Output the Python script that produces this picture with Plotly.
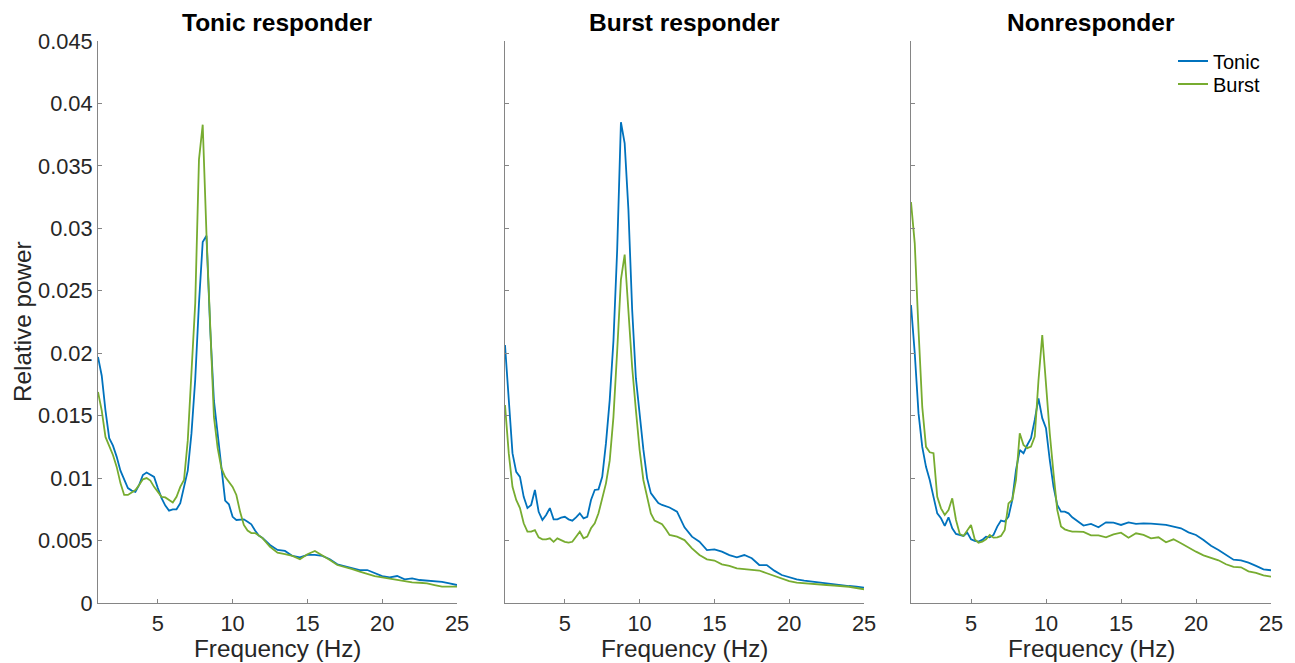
import plotly.graph_objects as go

# ---------------- data ----------------
FREQ = [1.0, 1.25, 1.5, 1.75, 2.0, 2.25, 2.5, 2.75, 3.0, 3.25, 3.5, 3.75,
        4.0, 4.25, 4.5, 4.75, 5.0, 5.25, 5.5, 5.75, 6.0, 6.25, 6.5, 6.75,
        7.0, 7.25, 7.5, 7.75, 8.0, 8.25, 8.5, 8.75, 9.0, 9.25, 9.5, 9.75,
        10.0, 10.25, 10.5, 10.75, 11.0, 11.25, 11.5, 11.75, 12.0,
        12.5, 13.0, 13.5, 14.0, 14.5, 15.0, 15.5, 16.0, 16.5, 17.0, 17.5,
        18.0, 18.5, 19.0, 19.5, 20.0, 20.5, 21.0, 21.5, 22.0, 22.5, 23.0,
        23.5, 24.0, 24.5, 25.0]

PANELS = ["Tonic responder", "Burst responder", "Nonresponder"]
SERIES = ["Tonic", "Burst"]

tonic_resp_tonic = [
    0.0197, 0.0182, 0.0154, 0.0132, 0.0126, 0.0117, 0.0106, 0.00985, 0.0092, 0.0090, 0.0089, 0.00945,
    0.01025, 0.01045, 0.0103, 0.0101, 0.0092, 0.0084, 0.0078, 0.0074, 0.0075, 0.0075, 0.0080, 0.0092,
    0.0106, 0.0136, 0.0179, 0.0240, 0.0289, 0.0294, 0.0220, 0.0162, 0.0136, 0.0109, 0.0082, 0.0079,
    0.0069, 0.00665, 0.0067, 0.0067, 0.0065, 0.0063, 0.0058, 0.0054, 0.0052,
    0.00465, 0.00425, 0.00417, 0.00377, 0.00366, 0.00385, 0.00385, 0.00377, 0.0035, 0.0031, 0.00295,
    0.00275, 0.00264, 0.00264, 0.00243, 0.00216, 0.00205, 0.00216, 0.0019, 0.00197, 0.00184, 0.00178,
    0.00178, 0.0017, 0.00157, 0.00144]
tonic_resp_burst = [
    0.0169, 0.0154, 0.0133, 0.0126, 0.01185, 0.0109, 0.0096, 0.00865, 0.00865, 0.00885, 0.00905, 0.00945,
    0.0099, 0.0100, 0.0098, 0.0093, 0.00885, 0.0085, 0.00845, 0.00825, 0.00805, 0.0085, 0.0093, 0.00985,
    0.0130, 0.0185, 0.0240, 0.0355, 0.0383, 0.0296, 0.0215, 0.0149, 0.0124, 0.0108, 0.0101, 0.0097,
    0.0093, 0.00865, 0.0073, 0.00625, 0.0058, 0.0056, 0.0056, 0.0054, 0.0052,
    0.0045, 0.00403, 0.00392, 0.00377, 0.0035, 0.0039, 0.00417, 0.00377, 0.00344, 0.00304, 0.0029,
    0.00272, 0.00251, 0.00232, 0.00216, 0.00205, 0.00195, 0.00184, 0.0017, 0.00165, 0.00162, 0.00157,
    0.00144, 0.00131, 0.00131, 0.00131]

burst_resp_tonic = [
    0.02065, 0.01625, 0.0120, 0.0105, 0.0101, 0.0085, 0.0076, 0.00785, 0.00905, 0.0073, 0.00665, 0.00705,
    0.0076, 0.0067, 0.0067, 0.00683, 0.0069, 0.0067, 0.00659, 0.00686, 0.00718, 0.00678, 0.0069, 0.00825,
    0.00905, 0.0091, 0.0101, 0.0128, 0.01625, 0.0210, 0.0283, 0.0385, 0.0368, 0.0315, 0.0235, 0.0180,
    0.0150, 0.0123, 0.0100, 0.0088, 0.0084, 0.0080, 0.00785, 0.00775, 0.00765,
    0.00731, 0.00606, 0.00531, 0.00491, 0.00424, 0.0043, 0.00411, 0.00384, 0.00366, 0.00384, 0.00358,
    0.00304, 0.00304, 0.00259, 0.00224, 0.00206, 0.0019, 0.00179, 0.00171, 0.00163, 0.00157, 0.00152,
    0.00144, 0.00136, 0.00131, 0.00123]
burst_resp_burst = [
    0.01585, 0.0120, 0.0093, 0.00825, 0.0076, 0.00638, 0.00571, 0.00571, 0.00584, 0.00526, 0.0051, 0.0051,
    0.00518, 0.0049, 0.00518, 0.00504, 0.0049, 0.00483, 0.0049, 0.00531, 0.00571, 0.00518, 0.00531, 0.00598,
    0.00638, 0.00718, 0.00838, 0.00958, 0.0114, 0.0149, 0.0202, 0.0259, 0.0279, 0.0232, 0.0189, 0.01545,
    0.01225, 0.00985, 0.00838, 0.00718, 0.0066, 0.00645, 0.0063, 0.0059, 0.00545,
    0.00531, 0.00504, 0.00438, 0.00384, 0.0035, 0.0034, 0.0031, 0.00298, 0.00278, 0.0027, 0.00265,
    0.0026, 0.00238, 0.00215, 0.00195, 0.00175, 0.00163, 0.00157, 0.00152, 0.00147, 0.00144, 0.0014,
    0.00136, 0.0013, 0.0012, 0.0011]

non_resp_tonic = [
    0.02386, 0.0200, 0.0152, 0.0125, 0.0109, 0.00985, 0.0085, 0.00718, 0.00678, 0.00617, 0.00686, 0.00598,
    0.00553, 0.00545, 0.00537, 0.00564, 0.0051, 0.00497, 0.00491, 0.00505, 0.00531, 0.00526, 0.00545, 0.00612,
    0.0066, 0.00652, 0.00692, 0.00825, 0.01065, 0.01225, 0.01199, 0.01265, 0.0132, 0.01466, 0.01639, 0.0148,
    0.01399, 0.01145, 0.00932, 0.00785, 0.00732, 0.00732, 0.00718, 0.00686, 0.00665,
    0.0062, 0.00633, 0.00606, 0.00646, 0.00643, 0.00625, 0.00646, 0.00633, 0.00638, 0.00635, 0.0063,
    0.00625, 0.00611, 0.00598, 0.00566, 0.00545, 0.00505, 0.00459, 0.00425, 0.00385, 0.00347, 0.00342,
    0.00323, 0.00297, 0.0027, 0.00262]
non_resp_burst = [
    0.0321, 0.0288, 0.0219, 0.0157, 0.0125, 0.01207, 0.0120, 0.0085, 0.00758, 0.00705, 0.00745, 0.00838,
    0.00665, 0.00553, 0.00537, 0.00585, 0.00625, 0.0051, 0.00483, 0.00491, 0.0051, 0.00545, 0.00523, 0.00526,
    0.00537, 0.00585, 0.00798, 0.00825, 0.00985, 0.01359, 0.01265, 0.0124, 0.01252, 0.01332, 0.01786, 0.02146,
    0.0173, 0.01359, 0.0104, 0.00745, 0.00612, 0.0059, 0.0058, 0.00572, 0.00572,
    0.00569, 0.00542, 0.00542, 0.00526, 0.0055, 0.00563, 0.00523, 0.00558, 0.00545, 0.00518, 0.00526,
    0.00486, 0.0051, 0.00478, 0.00441, 0.00411, 0.00382, 0.00361, 0.00342, 0.0031, 0.00289, 0.00286,
    0.00254, 0.00241, 0.00222, 0.00211]

DATA = [
    (tonic_resp_tonic, tonic_resp_burst),
    (burst_resp_tonic, burst_resp_burst),
    (non_resp_tonic, non_resp_burst),
]

Y_TICKS = [0, 0.005, 0.01, 0.015, 0.02, 0.025, 0.03, 0.035, 0.04, 0.045]
Y_TICKTEXT = ["0", "0.005", "0.01", "0.015", "0.02", "0.025", "0.03", "0.035", "0.04", "0.045"]
X_TICKS = [5, 10, 15, 20, 25]

# ---------------- style ----------------
COLORS = {"Tonic": "#0072BD", "Burst": "#77AC30"}
FONT = "Liberation Sans, Arial, Helvetica, sans-serif"
TXT = "#262626"
AXC = "#858585"

W, H = 1295, 663
ML, MR, MT, MB = 98, 24, 41, 60
PW = W - ML - MR
PH = H - MT - MB

px_domains = [(98, 457), (505, 864), (911, 1271)]
domains = [((a - ML) / PW, (b - ML) / PW) for a, b in px_domains]

fig = go.Figure()

for i, (tonic, burst) in enumerate(DATA):
    xa = "x" if i == 0 else f"x{i+1}"
    ya = "y" if i == 0 else f"y{i+1}"
    for name, vals in zip(SERIES, (tonic, burst)):
        fig.add_trace(go.Scatter(
            x=FREQ, y=vals, mode="lines", name=name,
            line=dict(color=COLORS[name], width=1.8),
            xaxis=xa, yaxis=ya, showlegend=(i == 2),
            legend="legend" if name == "Tonic" else "legend2",
        ))

LEG_X = (1173 - ML) / PW
legend_common = dict(
    xanchor="left", yanchor="middle", bgcolor="rgba(0,0,0,0)", borderwidth=0,
    font=dict(family=FONT, size=20, color="#000000"), itemwidth=30,
)

layout = dict(
    width=W, height=H,
    margin=dict(l=ML, r=MR, t=MT, b=MB, autoexpand=False),
    paper_bgcolor="white", plot_bgcolor="white",
    font=dict(family=FONT, color=TXT),
    legend=dict(x=LEG_X, y=(603 - 61) / PH, **legend_common),
    legend2=dict(x=LEG_X, y=(603 - 84) / PH, **legend_common),
    annotations=[],
)

for i in range(3):
    xk = "xaxis" if i == 0 else f"xaxis{i+1}"
    yk = "yaxis" if i == 0 else f"yaxis{i+1}"
    xa = "x" if i == 0 else f"x{i+1}"
    ya = "y" if i == 0 else f"y{i+1}"
    layout[xk] = dict(
        domain=list(domains[i]), anchor=ya, range=[1, 25],
        tickvals=X_TICKS, ticks="inside", ticklen=4, tickcolor=AXC, tickwidth=1,
        showline=True, linecolor=AXC, linewidth=1, mirror=False,
        showgrid=False, zeroline=False,
        tickfont=dict(family=FONT, size=21.8, color=TXT),
        automargin=False, ticklabelstandoff=1,
    )
    layout[yk] = dict(
        domain=[0, 1], anchor=xa, range=[0, 0.045],
        tickvals=Y_TICKS, ticktext=Y_TICKTEXT,
        ticks="inside", ticklen=4, tickcolor=AXC, tickwidth=1,
        showline=True, linecolor=AXC, linewidth=1, mirror=False,
        showgrid=False, zeroline=False,
        showticklabels=(i == 0),
        tickfont=dict(family=FONT, size=21.8, color=TXT),
        automargin=False,
    )
    cx = (domains[i][0] + domains[i][1]) / 2
    layout["annotations"].append(dict(
        text=f"<b>{PANELS[i]}</b>", x=cx, y=(603 - 23) / PH,
        xref="paper", yref="paper", xanchor="center", yanchor="middle",
        showarrow=False, font=dict(family=FONT, size=24.5, color="#000000"),
    ))
    layout["annotations"].append(dict(
        text="Frequency (Hz)", x=cx, y=(603 - 648) / PH,
        xref="paper", yref="paper", xanchor="center", yanchor="middle",
        showarrow=False, font=dict(family=FONT, size=24.3, color=TXT),
    ))

layout["annotations"].append(dict(
    text="Relative power", x=(22 - ML) / PW, y=0.5,
    xref="paper", yref="paper", xanchor="center", yanchor="middle",
    textangle=-90, showarrow=False, font=dict(family=FONT, size=24.3, color=TXT),
))

fig.update_layout(**layout)
fig.write_html(
    "out.html",
    config={"displayModeBar": False},
    post_script="document.body.style.margin='0px';document.body.style.overflow='hidden';",
)
